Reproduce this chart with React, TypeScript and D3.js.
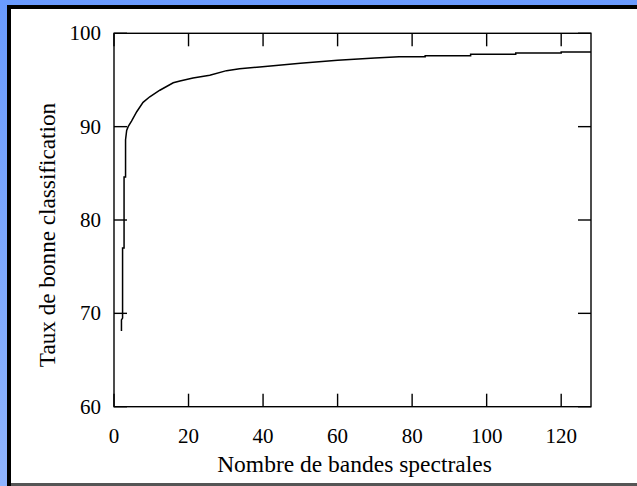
import React from "react";
import * as d3 from "d3";

const bands = [2, 2, 2.3, 2.3, 2.7, 2.7, 3.1, 3.1, 3.4, 3.8, 4.7, 6.1, 7.8, 9.6, 12.3, 15.9, 17.7, 21.2, 25.7, 30.2, 33.7, 39.1, 50, 60, 70, 76.5, 83.5, 83.5, 95.7, 95.7, 107.8, 107.8, 120, 120, 128];
const rates = [68.1, 69.3, 69.5, 77.0, 77.0, 84.6, 84.6, 88.6, 89.6, 90.0, 90.6, 91.6, 92.6, 93.2, 93.9, 94.7, 94.9, 95.2, 95.5, 96.0, 96.2, 96.4, 96.8, 97.1, 97.35, 97.5, 97.5, 97.6, 97.6, 97.75, 97.75, 97.9, 97.9, 98.0, 98.0];
const xTicks = [0, 20, 40, 60, 80, 100, 120];
const yTicks = [60, 70, 80, 90, 100];
const xLabel = "Nombre de bandes spectrales";
const yLabel = "Taux de bonne classification";

export default function App() {
  const W = 637, H = 486;
  const left = 114, right = 591, top = 33.3, bottom = 406.7;
  const x = d3.scaleLinear().domain([0, 128]).range([left, right]);
  const y = d3.scaleLinear().domain([60, 100]).range([bottom, top]);
  const pts = bands.map((b, i) => [b, rates[i]] as [number, number]);
  const line = d3.line<[number, number]>().x(d => x(d[0])).y(d => y(d[1]));
  const tl = 13;
  const font = "'Liberation Serif', 'Times New Roman', serif";
  return (
    <svg width={W} height={H} style={{ position: "absolute", left: 0, top: 0, display: "block" }}>
      <defs>
        <linearGradient id="bg" x1="0" y1="0" x2="0" y2="1">
          <stop offset="0" stopColor="#6a9bff" />
          <stop offset="1" stopColor="#8fb4ff" />
        </linearGradient>
      </defs>
      <rect x={0} y={0} width={W} height={H} fill="url(#bg)" />
      <rect x={7} y={5} width={W - 7} height={H - 5} fill="#000" />
      <rect x={11} y={9} width={W - 11} height={H - 9 - 3} fill="#fff" />
      <rect x={11} y={H - 3} width={W - 11} height={3} fill="#555" />
      <rect x={left} y={top} width={right - left} height={bottom - top} fill="none" stroke="#000" strokeWidth={1.4} />
      {xTicks.map(t => (
        <g key={"x" + t}>
          <line x1={x(t)} x2={x(t)} y1={bottom} y2={bottom - tl} stroke="#000" strokeWidth={1.4} />
          <line x1={x(t)} x2={x(t)} y1={top} y2={top + tl} stroke="#000" strokeWidth={1.4} />
          <text x={x(t)} y={443} textAnchor="middle" fontFamily={font} fontSize={21} fill="#000">{t}</text>
        </g>
      ))}
      {yTicks.map(t => (
        <g key={"y" + t}>
          <line x1={left} x2={left + tl} y1={y(t)} y2={y(t)} stroke="#000" strokeWidth={1.4} />
          <line x1={right} x2={right - tl} y1={y(t)} y2={y(t)} stroke="#000" strokeWidth={1.4} />
          <text x={101} y={y(t) + 7} textAnchor="end" fontFamily={font} fontSize={21} fill="#000">{t}</text>
        </g>
      ))}
      <path d={line(pts) || ""} fill="none" stroke="#000" strokeWidth={1.5} />
      <text x={(left + right) / 2 + 2} y={472} textAnchor="middle" fontFamily={font} fontSize={23.5} fill="#000">{xLabel}</text>
      <text transform={`translate(55,235) rotate(-90)`} textAnchor="middle" fontFamily={font} fontSize={23.2} fill="#000">{yLabel}</text>
    </svg>
  );
}
